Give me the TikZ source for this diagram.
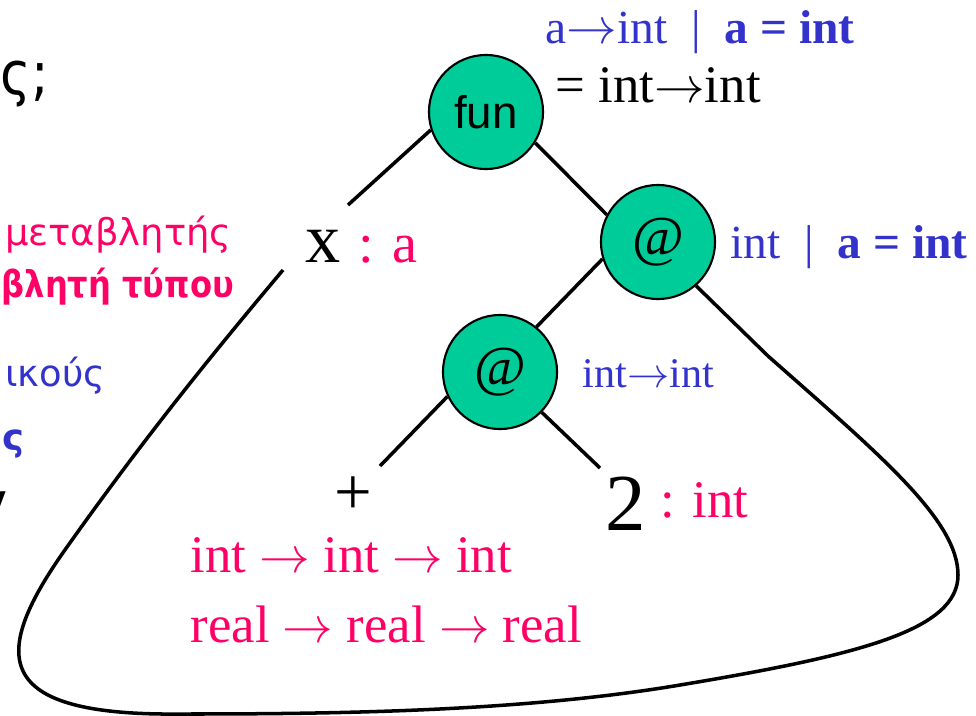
\documentclass[tikz,border=0pt]{standalone}
\usepackage{fontspec}
\setmainfont{Liberation Serif}
\newfontfamily\slidefont{DejaVu Sans}
\newfontfamily\slidenarrow[FakeStretch=0.87]{DejaVu Sans}
\newfontfamily\circfont{Liberation Sans}
\usepackage{xcolor}
\usetikzlibrary{positioning}
\definecolor{tgreen}{RGB}{0,204,153}
\definecolor{tpink}{RGB}{255,0,102}
\definecolor{tblue}{RGB}{51,51,204}

\begin{document}
\begin{tikzpicture}[x=0.01cm, y=-0.01cm,
    tnode/.style={circle, draw=black, line width=0.6pt, fill=tgreen, minimum size=1.14cm, inner sep=0pt},
    edge/.style={line width=1pt},
    lbl/.style={inner sep=0pt, anchor=base west},
    slide/.style={inner sep=0pt, anchor=base east}]
    \useasboundingbox (0,0) rectangle (976,715);
    \clip (0,0) rectangle (976,715);

    \node[lbl, font=\slidenarrow\fontsize{17}{19}\selectfont] (slide1) at (0,94) {ς;};
    \node[slide, text=tpink, font=\slidefont\fontsize{10.5}{12}\selectfont] (slide2) at (232,245) {μεταβλητής};
    \node[lbl, text=tpink, font=\slidenarrow\bfseries\fontsize{10.5}{12}\selectfont] (slide3) at (1,297) {βλητή τύπου};
    \node[slide, text=tblue, font=\slidefont\fontsize{10.5}{12}\selectfont] (slide4) at (106,386) {ικούς};
    \node[lbl, text=tblue, font=\slidefont\bfseries\fontsize{10.5}{12}\selectfont] (slide5) at (2,450) {ς};
    \node[slide, font=\slidefont\fontsize{16}{18}\selectfont] (slide6) at (9,522) {v};

    \node[tnode, font=\circfont\fontsize{13}{15}\selectfont] (fun) at (486,112) {fun};
    \node[tnode, font=\fontsize{16}{18}\selectfont] (app1) at (658,242) {@};
    \node[tnode, font=\fontsize{16}{18}\selectfont] (app2) at (500,372) {@};

    \node[lbl, text=tblue, font=\fontsize{13.5}{16}\selectfont] (funinfer) at (545,44) {a$\rightarrow$int\enspace|\enspace\textbf{a = int}};
    \node[lbl, font=\fontsize{15}{18}\selectfont] (funtype) at (555,102) {= int$\rightarrow$int};
    \node[lbl, text=tblue, font=\fontsize{13.5}{16}\selectfont] (app1type) at (730,258) {int\enspace|\enspace\textbf{a = int}};
    \node[lbl, text=tblue, font=\fontsize{12}{14}\selectfont] (app2type) at (582,387) {int$\rightarrow$int};
    \node[lbl, font=\fontsize{20}{22}\selectfont] (xvar) at (305,262) {x {\color{tpink}\fontsize{16}{19}\selectfont: a}};
    \node[lbl, font=\fontsize{19}{21}\selectfont] (plus) at (334,514) {+};
    \node[lbl, font=\fontsize{23}{25}\selectfont] (two) at (605,530) {2};
    \node[lbl, text=tpink, font=\fontsize{15}{18}\selectfont] (twotype) at (660,517) {: int};
    \node[lbl, text=tpink, font=\fontsize{15}{18}\selectfont] (plustype1) at (190,572) {int $\rightarrow$ int $\rightarrow$ int};
    \node[lbl, text=tpink, font=\fontsize{15}{18}\selectfont] (plustype2) at (190,642) {real $\rightarrow$ real $\rightarrow$ real};

    \coordinate (xtip) at (348,205);
    \coordinate (ptip) at (380,466);
    \coordinate (ntip) at (600,468);
    \coordinate (xend) at (283,270);
    \draw[edge] (fun.198) -- (xtip);
    \draw[edge] (fun.-32) -- (app1.152);
    \draw[edge] (app1.197) -- (app2.51);
    \draw[edge] (app2.205) -- (ptip);
    \draw[edge] (app2.-44) -- (ntip);
    \draw[edge] (app1.-49) -- (768,356) .. controls (880,455) and (958,520) .. (958,575)
        .. controls (958,630) and (860,655) .. (680,685)
        .. controls (520,712) and (330,714) .. (180,714)
        .. controls (-10,716) and (-10,655) .. (67,547)
        .. controls (150,430) and (220,345) .. (xend);
\end{tikzpicture}
\end{document}
